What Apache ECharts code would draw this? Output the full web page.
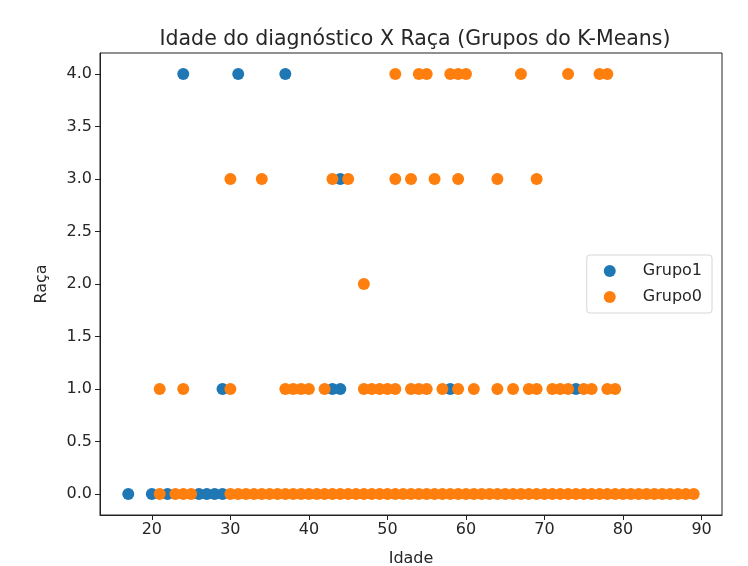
<!DOCTYPE html>
<html lang="pt">
<head>
    <meta charset="UTF-8">
    <title>Idade do diagnóstico X Raça</title>
    <script src="https://cdn.jsdelivr.net/npm/echarts@6.0.0/dist/echarts.min.js"></script>
    <style>
        html, body { margin: 0; padding: 0; background: #fff; }
        #chart { width: 748px; height: 566px; }
    </style>
</head>
<body>
<div id="chart"></div>
<script>
    // valores de raça (eixo y) e ticks
    var racaNiveis = [0, 1, 2, 3, 4];
    var xTicks = [20, 30, 40, 50, 60, 70, 80, 90];
    var yTicks = [0, 0.5, 1, 1.5, 2, 2.5, 3, 3.5, 4];

    // Grupo1 (azul) - idades por nivel de raça
    var g1Raca0 = [17, 20, 22, 26, 27, 28, 29];
    var g1Raca1 = [29, 43, 44, 58, 74];
    var g1Raca2 = [];
    var g1Raca3 = [44];
    var g1Raca4 = [24, 31, 37];

    // Grupo0 (laranja)
    var g0Raca0 = [21, 23, 24, 25, 30, 31, 32, 33, 34, 35, 36, 37, 38, 39, 40, 41, 42, 43, 44, 45,
        46, 47, 48, 49, 50, 51, 52, 53, 54, 55, 56, 57, 58, 59, 60, 61, 62, 63, 64, 65, 66, 67, 68,
        69, 70, 71, 72, 73, 74, 75, 76, 77, 78, 79, 80, 81, 82, 83, 84, 85, 86, 87, 88, 89];
    var g0Raca1 = [21, 24, 30, 37, 38, 39, 40, 42, 47, 48, 49, 50, 51, 53, 54, 55, 57, 59, 61, 64,
        66, 68, 69, 71, 72, 73, 75, 76, 78, 79];
    var g0Raca2 = [47];
    var g0Raca3 = [30, 34, 43, 45, 51, 53, 56, 59, 64, 69];
    var g0Raca4 = [51, 54, 55, 58, 59, 60, 67, 73, 77, 78];

    // monta pares [idade, raca]
    function pares(listas) {
        var out = [];
        for (var i = 0; i < listas.length; i++) {
            for (var j = 0; j < listas[i].length; j++) {
                out.push([listas[i][j], racaNiveis[i]]);
            }
        }
        return out;
    }

    var grupo1 = pares([g1Raca0, g1Raca1, g1Raca2, g1Raca3, g1Raca4]);
    var grupo0 = pares([g0Raca0, g0Raca1, g0Raca2, g0Raca3, g0Raca4]);

    var fonte = 'DejaVu Sans';
    var corTexto = '#262626';

    var chart = echarts.init(document.getElementById('chart'));
    var option = {
        animation: false,
        textStyle: {fontFamily: fonte},
        title: {
            text: 'Idade do diagnóstico X Raça (Grupos do K-Means)',
            left: 410,
            textAlign: 'center',
            top: 24,
            textStyle: {fontFamily: fonte, fontSize: 20.5, fontWeight: 'normal', color: corTexto}
        },
        grid: {
            left: 100,
            right: 26,
            top: 53,
            bottom: 51,
            outerBoundsMode: 'none',
            show: true,
            borderColor: '#222',
            borderWidth: 1
        },
        legend: {
            orient: 'vertical',
            right: 36,
            top: 255,
            itemWidth: 12,
            itemHeight: 12,
            itemGap: 10,
            padding: [8, 10, 8, 17],
            backgroundColor: '#fff',
            borderColor: '#d6d6d6',
            borderWidth: 1,
            borderRadius: 3,
            textStyle: {fontFamily: fonte, fontSize: 16, color: corTexto, padding: [0, 0, 0, 22]},
            data: ['Grupo1', 'Grupo0']
        },
        xAxis: {
            type: 'value',
            min: 13.4,
            max: 92.6,
            name: 'Idade',
            nameLocation: 'middle',
            nameGap: 36,
            nameTextStyle: {fontFamily: fonte, fontSize: 16, color: corTexto},
            splitLine: {show: false},
            axisLine: {onZero: false, lineStyle: {color: '#222'}},
            axisTick: {show: true, length: 5, customValues: xTicks, lineStyle: {color: '#222'}},
            axisLabel: {customValues: xTicks, fontFamily: fonte, fontSize: 16, color: corTexto, margin: 7}
        },
        yAxis: {
            type: 'value',
            min: -0.2,
            max: 4.2,
            name: 'Raça',
            nameLocation: 'middle',
            nameGap: 50,
            nameTextStyle: {fontFamily: fonte, fontSize: 16, color: corTexto},
            splitLine: {show: false},
            axisLine: {show: true, onZero: false, lineStyle: {color: '#222'}},
            axisTick: {show: true, length: 5, customValues: yTicks, lineStyle: {color: '#222'}},
            axisLabel: {
                customValues: yTicks, fontFamily: fonte, fontSize: 16, color: corTexto, margin: 8,
                formatter: function (v) { return v.toFixed(1); }
            }
        },
        series: [{
            name: 'Grupo1',
            type: 'scatter',
            symbolSize: 12,
            itemStyle: {color: '#1f77b4', opacity: 1},
            data: grupo1
        }, {
            name: 'Grupo0',
            type: 'scatter',
            symbolSize: 12,
            itemStyle: {color: '#ff7f0e', opacity: 1},
            data: grupo0
        }]
    };
    chart.setOption(option);
</script>
</body>
</html>
